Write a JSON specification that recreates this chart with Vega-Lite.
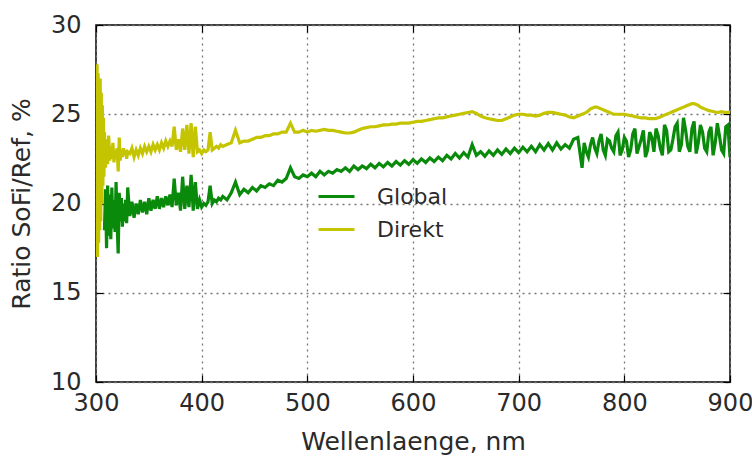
{
  "$schema": "https://vega.github.io/schema/vega-lite/v6.json",
  "width": 634,
  "height": 357,
  "autosize": {"type": "none"},
  "padding": {"left": 96, "top": 25, "right": 22, "bottom": 77},
  "background": "white",
  "config": {
    "font": "DejaVu Sans",
    "view": {"stroke": "black", "strokeWidth": 1.5},
    "axis": {
      "labelFont": "DejaVu Sans",
      "titleFont": "DejaVu Sans",
      "labelFontSize": 24,
      "titleFontSize": 25,
      "labelColor": "#2a2a2a",
      "titleColor": "#2a2a2a",
      "titleFontWeight": "normal",
      "domain": false,
      "tickColor": "black",
      "tickWidth": 1.2,
      "tickSize": -7
    }
  },
  "data": {
    "values": [
      {"w": 300, "Direkt": 27.6},
      {"w": 300.5, "Direkt": 17.5},
      {"w": 301, "Direkt": 27.8},
      {"w": 301.5, "Direkt": 17.0},
      {"w": 302, "Direkt": 27.3},
      {"w": 302.5, "Direkt": 17.8},
      {"w": 303, "Direkt": 26.8},
      {"w": 303.5, "Direkt": 18.5},
      {"w": 304, "Direkt": 27.0},
      {"w": 304.5, "Direkt": 19.0},
      {"w": 305, "Direkt": 26.2},
      {"w": 305.5, "Direkt": 20.0},
      {"w": 306, "Direkt": 25.5},
      {"w": 306.5, "Direkt": 21.0},
      {"w": 307, "Direkt": 24.8},
      {"w": 307.5, "Direkt": 21.5},
      {"w": 308, "Global": 18.5, "Direkt": 24.0},
      {"w": 309, "Global": 20.8, "Direkt": 22.0},
      {"w": 310, "Global": 17.5, "Direkt": 23.6},
      {"w": 311, "Global": 21.0, "Direkt": 22.2},
      {"w": 312, "Global": 18.2, "Direkt": 23.8},
      {"w": 313, "Global": 20.5, "Direkt": 22.4},
      {"w": 314, "Global": 18.0, "Direkt": 23.2},
      {"w": 315, "Global": 20.9, "Direkt": 22.5},
      {"w": 316, "Global": 18.6, "Direkt": 23.4},
      {"w": 317, "Global": 20.2, "Direkt": 22.3},
      {"w": 318, "Global": 18.4, "Direkt": 23.0},
      {"w": 319, "Global": 21.2, "Direkt": 22.6},
      {"w": 320, "Global": 18.8, "Direkt": 23.1},
      {"w": 321, "Global": 17.2, "Direkt": 21.8},
      {"w": 322, "Global": 20.6, "Direkt": 23.7},
      {"w": 323, "Global": 19.0, "Direkt": 22.4},
      {"w": 324, "Global": 20.3, "Direkt": 23.0},
      {"w": 325, "Global": 18.7, "Direkt": 22.6},
      {"w": 326, "Global": 20.0, "Direkt": 23.1},
      {"w": 327, "Global": 19.0, "Direkt": 22.7},
      {"w": 328, "Global": 20.2, "Direkt": 23.0},
      {"w": 329, "Global": 18.9, "Direkt": 22.5},
      {"w": 330, "Global": 20.9, "Direkt": 22.9},
      {"w": 332, "Global": 19.3, "Direkt": 22.8},
      {"w": 334, "Global": 20.1, "Direkt": 23.1},
      {"w": 336, "Global": 19.2, "Direkt": 22.6},
      {"w": 338, "Global": 20.0, "Direkt": 23.0},
      {"w": 340, "Global": 19.4, "Direkt": 22.7},
      {"w": 342, "Global": 20.2, "Direkt": 23.1},
      {"w": 344, "Global": 19.5, "Direkt": 22.8},
      {"w": 346, "Global": 20.1, "Direkt": 23.2},
      {"w": 348, "Global": 19.4, "Direkt": 22.9},
      {"w": 350, "Global": 20.3, "Direkt": 23.2},
      {"w": 352, "Global": 19.6, "Direkt": 22.9},
      {"w": 354, "Global": 20.2, "Direkt": 23.3},
      {"w": 356, "Global": 19.7, "Direkt": 23.0},
      {"w": 358, "Global": 20.4, "Direkt": 23.3},
      {"w": 360, "Global": 19.7, "Direkt": 23.0},
      {"w": 362, "Global": 20.3, "Direkt": 23.4},
      {"w": 364, "Global": 19.8, "Direkt": 23.1},
      {"w": 366, "Global": 20.4, "Direkt": 23.5},
      {"w": 368, "Global": 19.9, "Direkt": 23.2},
      {"w": 370, "Global": 20.5, "Direkt": 23.5},
      {"w": 372, "Global": 19.8, "Direkt": 23.2},
      {"w": 374, "Global": 21.4, "Direkt": 24.3},
      {"w": 376, "Global": 19.9, "Direkt": 23.0},
      {"w": 378, "Global": 20.6, "Direkt": 23.6},
      {"w": 380, "Global": 19.6, "Direkt": 22.9},
      {"w": 382, "Global": 21.5, "Direkt": 24.2},
      {"w": 384, "Global": 19.7, "Direkt": 23.0},
      {"w": 386, "Global": 21.0, "Direkt": 24.4},
      {"w": 388, "Global": 19.8, "Direkt": 22.8},
      {"w": 390, "Global": 21.6, "Direkt": 24.5},
      {"w": 392, "Global": 19.6, "Direkt": 22.6},
      {"w": 394, "Global": 21.2, "Direkt": 24.3},
      {"w": 396, "Global": 19.7, "Direkt": 22.9},
      {"w": 398, "Global": 20.2, "Direkt": 23.0},
      {"w": 400, "Global": 19.8, "Direkt": 22.8},
      {"w": 402, "Global": 20.0, "Direkt": 23.0},
      {"w": 404, "Global": 19.9, "Direkt": 22.9},
      {"w": 406, "Global": 20.1, "Direkt": 23.0},
      {"w": 408, "Global": 21.0, "Direkt": 24.0},
      {"w": 410, "Global": 20.0, "Direkt": 23.0},
      {"w": 412, "Global": 20.2, "Direkt": 23.1},
      {"w": 414, "Global": 20.1, "Direkt": 23.2},
      {"w": 416, "Global": 20.3, "Direkt": 23.1},
      {"w": 418, "Global": 20.2, "Direkt": 23.3},
      {"w": 420, "Global": 20.4, "Direkt": 23.2},
      {"w": 424, "Global": 20.2, "Direkt": 23.3},
      {"w": 428, "Global": 20.6, "Direkt": 23.4},
      {"w": 432, "Global": 21.2, "Direkt": 24.1},
      {"w": 436, "Global": 20.5, "Direkt": 23.4},
      {"w": 440, "Global": 20.8, "Direkt": 23.5},
      {"w": 444, "Global": 20.6, "Direkt": 23.5},
      {"w": 448, "Global": 20.9, "Direkt": 23.6},
      {"w": 452, "Global": 20.7, "Direkt": 23.7},
      {"w": 456, "Global": 21.0, "Direkt": 23.7},
      {"w": 460, "Global": 20.9, "Direkt": 23.8},
      {"w": 464, "Global": 21.1, "Direkt": 23.8},
      {"w": 468, "Global": 21.0, "Direkt": 23.9},
      {"w": 472, "Global": 21.3, "Direkt": 23.9},
      {"w": 476, "Global": 21.2, "Direkt": 24.0},
      {"w": 480, "Global": 21.4, "Direkt": 24.0},
      {"w": 484, "Global": 22.0, "Direkt": 24.5},
      {"w": 488, "Global": 21.5, "Direkt": 24.0},
      {"w": 492, "Global": 21.4, "Direkt": 24.0},
      {"w": 496, "Global": 21.6, "Direkt": 24.1},
      {"w": 500, "Global": 21.5, "Direkt": 24.0},
      {"w": 504, "Global": 21.7, "Direkt": 24.1},
      {"w": 508, "Global": 21.5, "Direkt": 24.05},
      {"w": 512, "Global": 21.8, "Direkt": 24.1},
      {"w": 516, "Global": 21.6, "Direkt": 24.15},
      {"w": 520, "Global": 21.8, "Direkt": 24.1},
      {"w": 524, "Global": 21.7, "Direkt": 24.1},
      {"w": 528, "Global": 21.9, "Direkt": 24.05},
      {"w": 532, "Global": 21.8, "Direkt": 24.0},
      {"w": 536, "Global": 22.0, "Direkt": 23.95},
      {"w": 540, "Global": 21.8, "Direkt": 23.95},
      {"w": 544, "Global": 22.1, "Direkt": 24.0},
      {"w": 548, "Global": 21.9, "Direkt": 24.1},
      {"w": 552, "Global": 22.1, "Direkt": 24.2},
      {"w": 556, "Global": 21.95, "Direkt": 24.25},
      {"w": 560, "Global": 22.2, "Direkt": 24.3},
      {"w": 564, "Global": 22.0, "Direkt": 24.3},
      {"w": 568, "Global": 22.25, "Direkt": 24.35},
      {"w": 572, "Global": 22.05, "Direkt": 24.4},
      {"w": 576, "Global": 22.3, "Direkt": 24.4},
      {"w": 580, "Global": 22.1, "Direkt": 24.45},
      {"w": 584, "Global": 22.35, "Direkt": 24.45},
      {"w": 588, "Global": 22.15, "Direkt": 24.5},
      {"w": 592, "Global": 22.4, "Direkt": 24.5},
      {"w": 596, "Global": 22.2, "Direkt": 24.5},
      {"w": 600, "Global": 22.45, "Direkt": 24.55},
      {"w": 604, "Global": 22.25, "Direkt": 24.6},
      {"w": 608, "Global": 22.5, "Direkt": 24.6},
      {"w": 612, "Global": 22.3, "Direkt": 24.65},
      {"w": 616, "Global": 22.55, "Direkt": 24.7},
      {"w": 620, "Global": 22.35, "Direkt": 24.75},
      {"w": 624, "Global": 22.6, "Direkt": 24.8},
      {"w": 628, "Global": 22.4, "Direkt": 24.8},
      {"w": 632, "Global": 22.7, "Direkt": 24.85},
      {"w": 636, "Global": 22.5, "Direkt": 24.9},
      {"w": 640, "Global": 22.8, "Direkt": 24.95},
      {"w": 644, "Global": 22.55, "Direkt": 25.0},
      {"w": 648, "Global": 22.85, "Direkt": 25.05},
      {"w": 652, "Global": 22.6, "Direkt": 25.1},
      {"w": 656, "Global": 23.3, "Direkt": 25.15},
      {"w": 660, "Global": 22.7, "Direkt": 25.05},
      {"w": 664, "Global": 22.9, "Direkt": 24.9},
      {"w": 668, "Global": 22.65, "Direkt": 24.8},
      {"w": 672, "Global": 22.95, "Direkt": 24.75},
      {"w": 676, "Global": 22.7, "Direkt": 24.7},
      {"w": 680, "Global": 23.0, "Direkt": 24.65},
      {"w": 684, "Global": 22.75, "Direkt": 24.65},
      {"w": 688, "Global": 23.05, "Direkt": 24.75},
      {"w": 692, "Global": 22.8, "Direkt": 24.85},
      {"w": 696, "Global": 23.1, "Direkt": 24.95},
      {"w": 700, "Global": 22.85, "Direkt": 25.0},
      {"w": 704, "Global": 23.15, "Direkt": 25.0},
      {"w": 708, "Global": 22.9, "Direkt": 24.95},
      {"w": 712, "Global": 23.2, "Direkt": 24.95},
      {"w": 716, "Global": 22.9, "Direkt": 24.9},
      {"w": 720, "Global": 23.3, "Direkt": 24.95},
      {"w": 724, "Global": 23.0, "Direkt": 25.05},
      {"w": 728, "Global": 23.35, "Direkt": 25.1},
      {"w": 732, "Global": 23.0, "Direkt": 25.1},
      {"w": 736, "Global": 23.4, "Direkt": 25.05},
      {"w": 740, "Global": 23.05, "Direkt": 25.0},
      {"w": 744, "Global": 23.3, "Direkt": 24.95},
      {"w": 748, "Global": 23.1, "Direkt": 24.85},
      {"w": 752, "Global": 23.6, "Direkt": 24.8},
      {"w": 756, "Global": 23.7, "Direkt": 24.9},
      {"w": 760, "Global": 22.0, "Direkt": 25.0},
      {"w": 764, "Global": 22.9, "Direkt": 25.1},
      {"w": 768, "Global": 23.3, "Direkt": 25.3},
      {"w": 772, "Global": 23.1, "Direkt": 25.4},
      {"w": 776, "Global": 23.5, "Direkt": 25.35},
      {"w": 780, "Global": 23.0, "Direkt": 25.25},
      {"w": 784, "Global": 23.6, "Direkt": 25.15},
      {"w": 788, "Global": 23.1, "Direkt": 25.05},
      {"w": 792, "Global": 23.8, "Direkt": 25.0},
      {"w": 796, "Global": 22.7, "Direkt": 25.0},
      {"w": 800, "Global": 23.7, "Direkt": 25.0},
      {"w": 804, "Global": 22.6, "Direkt": 24.95},
      {"w": 808, "Global": 23.9, "Direkt": 24.9},
      {"w": 812, "Global": 22.8, "Direkt": 24.85},
      {"w": 816, "Global": 23.6, "Direkt": 24.8},
      {"w": 820, "Global": 22.6, "Direkt": 24.8},
      {"w": 824, "Global": 24.0, "Direkt": 24.75},
      {"w": 828, "Global": 22.9, "Direkt": 24.75},
      {"w": 832, "Global": 23.8, "Direkt": 24.8},
      {"w": 836, "Global": 22.7, "Direkt": 24.9},
      {"w": 840, "Global": 24.1, "Direkt": 25.0},
      {"w": 844, "Global": 23.0, "Direkt": 25.1},
      {"w": 848, "Global": 24.3, "Direkt": 25.2},
      {"w": 852, "Global": 22.9, "Direkt": 25.3},
      {"w": 856, "Global": 24.8, "Direkt": 25.4},
      {"w": 860, "Global": 23.2, "Direkt": 25.5},
      {"w": 864, "Global": 24.2, "Direkt": 25.6},
      {"w": 868, "Global": 22.8, "Direkt": 25.55},
      {"w": 872, "Global": 24.4, "Direkt": 25.4},
      {"w": 876, "Global": 23.1, "Direkt": 25.3},
      {"w": 880, "Global": 24.0, "Direkt": 25.2},
      {"w": 884, "Global": 22.7, "Direkt": 25.15},
      {"w": 888, "Global": 24.5, "Direkt": 25.1},
      {"w": 892, "Global": 23.0, "Direkt": 25.15},
      {"w": 896, "Global": 24.3, "Direkt": 25.1},
      {"w": 900, "Global": 22.6, "Direkt": 25.1},
      {"w": 762, "Global": 23.4, "Direkt": 25.05},
      {"w": 766, "Global": 22.6, "Direkt": 25.2},
      {"w": 770, "Global": 23.7, "Direkt": 25.35},
      {"w": 774, "Global": 22.8, "Direkt": 25.4},
      {"w": 778, "Global": 23.9, "Direkt": 25.3},
      {"w": 782, "Global": 22.7, "Direkt": 25.2},
      {"w": 786, "Global": 23.5, "Direkt": 25.1},
      {"w": 790, "Global": 22.9, "Direkt": 25.0},
      {"w": 794, "Global": 24.0, "Direkt": 25.0},
      {"w": 798, "Global": 23.0, "Direkt": 25.0},
      {"w": 802, "Global": 23.5, "Direkt": 24.97},
      {"w": 806, "Global": 23.0, "Direkt": 24.92},
      {"w": 810, "Global": 24.2, "Direkt": 24.87},
      {"w": 814, "Global": 23.2, "Direkt": 24.82},
      {"w": 818, "Global": 24.1, "Direkt": 24.8},
      {"w": 822, "Global": 23.0, "Direkt": 24.77},
      {"w": 826, "Global": 23.7, "Direkt": 24.75},
      {"w": 830, "Global": 24.2, "Direkt": 24.77},
      {"w": 834, "Global": 23.1, "Direkt": 24.85},
      {"w": 838, "Global": 24.4, "Direkt": 24.95},
      {"w": 842, "Global": 22.9, "Direkt": 25.05},
      {"w": 846, "Global": 23.6, "Direkt": 25.15},
      {"w": 850, "Global": 24.5, "Direkt": 25.25},
      {"w": 854, "Global": 23.3, "Direkt": 25.35},
      {"w": 858, "Global": 24.1, "Direkt": 25.45},
      {"w": 862, "Global": 22.9, "Direkt": 25.55},
      {"w": 866, "Global": 24.6, "Direkt": 25.6},
      {"w": 870, "Global": 23.4, "Direkt": 25.5},
      {"w": 874, "Global": 24.0, "Direkt": 25.35},
      {"w": 878, "Global": 22.9, "Direkt": 25.25},
      {"w": 882, "Global": 24.3, "Direkt": 25.18},
      {"w": 886, "Global": 23.4, "Direkt": 25.12},
      {"w": 890, "Global": 23.8, "Direkt": 25.12},
      {"w": 894, "Global": 22.8, "Direkt": 25.12},
      {"w": 898, "Global": 24.4, "Direkt": 25.1}
    ]
  },
  "transform": [{"fold": ["Global", "Direkt"], "as": ["series", "ratio"]}],
  "resolve": {"axis": {"x": "independent", "y": "independent"}},
  "layer": [
    {
      "mark": {"type": "line", "strokeWidth": 3.2, "clip": true},
      "encoding": {
        "x": {
          "field": "w", "type": "quantitative",
          "scale": {"domain": [300, 900], "nice": false, "zero": false},
          "axis": {"title": "Wellenlaenge, nm", "values": [300, 400, 500, 600, 700, 800, 900],
                   "grid": true, "gridDash": [2, 4], "gridColor": "#777", "gridWidth": 1.3,
                   "labelPadding": 16, "titlePadding": 14, "labelFlush": false}
        },
        "y": {
          "field": "ratio", "type": "quantitative",
          "scale": {"domain": [10, 30], "nice": false, "zero": false},
          "axis": {"title": "Ratio SoFi/Ref, %", "values": [10, 15, 20, 25, 30],
                   "grid": true, "gridDash": [2, 4], "gridColor": "#777", "gridWidth": 1.3,
                   "labelPadding": 22, "titlePadding": 16}
        },
        "color": {
          "field": "series", "type": "nominal",
          "scale": {"domain": ["Global", "Direkt"], "range": ["#0a8a0a", "#c4c400"]},
          "legend": {
            "title": null, "orient": "none", "legendX": 221, "legendY": 152,
            "symbolType": "stroke", "symbolSize": 1296, "symbolStrokeWidth": 3,
            "labelFontSize": 22, "labelFont": "DejaVu Sans", "labelColor": "#2a2a2a",
            "labelOffset": 21, "rowPadding": 2, "padding": 0
          }
        },
        "order": {"field": "w", "type": "quantitative"}
      }
    },
    {
      "mark": {"type": "line", "strokeOpacity": 0},
      "encoding": {
        "x": {"field": "w", "type": "quantitative",
              "axis": {"orient": "top", "labels": false, "title": null, "grid": false,
                       "values": [300, 400, 500, 600, 700, 800, 900]}},
        "y": {"field": "ratio", "type": "quantitative",
              "axis": {"orient": "right", "labels": false, "title": null, "grid": false,
                       "values": [10, 15, 20, 25, 30]}},
        "detail": {"field": "series"}
      }
    }
  ]
}
